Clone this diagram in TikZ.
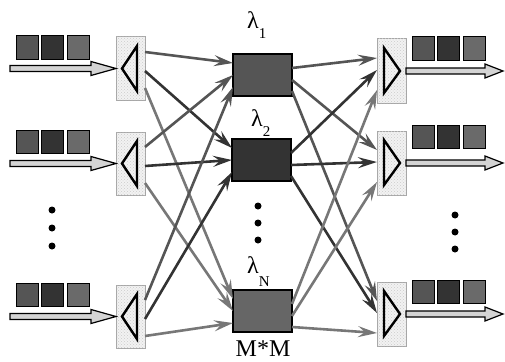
\documentclass[tikz,border=0pt]{standalone}
\usepackage{fontspec}
\setmainfont{Liberation Serif}
\usetikzlibrary{arrows.meta,calc,patterns}
\definecolor{ca}{HTML}{555555}
\definecolor{cb}{HTML}{333333}
\definecolor{cc}{HTML}{777777}
\definecolor{sq3}{HTML}{6A6A6A}
\definecolor{mN}{HTML}{666666}
\definecolor{arrfill}{HTML}{D4D4D4}
\begin{document}
\begin{tikzpicture}[x=1pt,y=-1pt,
  demux/.style={draw=gray!70, line width=1pt, fill=gray!10, postaction={pattern=crosshatch dots, pattern color=gray!40},
    rectangle, inner sep=0pt, outer sep=0pt, minimum width=29pt, minimum height=63pt, anchor=north west},
  wbox/.style={draw=black, line width=1.2pt, rectangle, inner sep=0pt, outer sep=0pt,
    minimum width=59pt, minimum height=42pt, anchor=north west},
  sq/.style={draw=black, line width=1pt, rectangle, inner sep=0pt, outer sep=0pt,
    minimum width=22pt, minimum height=23pt, anchor=north west},
  tri/.style={draw=black, line width=2.4pt, line join=miter},
  bigarrow/.style={draw=black, line width=1.2pt, fill=arrfill, line join=miter},
  conn/.style={line width=2.6pt, -{Stealth[length=19pt,width=11pt,inset=7pt]}},
  dot/.style={circle, fill=black, inner sep=0pt, minimum size=7pt},
  lam/.style={anchor=base west, inner sep=0pt}
]
\useasboundingbox (0,0) rectangle (505,361);

% input demux boxes
\node[demux] (in1) at (116,37) {};
\node[demux] (in2) at (116,132) {};
\node[demux] (in3) at (116,285) {};
% output mux boxes
\node[demux, minimum height=64pt] (out1) at (377,39) {};
\node[demux, minimum height=64pt] (out2) at (377,131) {};
\node[demux, minimum height=64pt] (out3) at (377,282) {};
% wavelength boxes
\node[wbox, fill=ca] (m1) at (233,54) {};
\node[wbox, fill=cb] (m2) at (232,139) {};
\node[wbox, fill=mN] (m3) at (233,290) {};

% connectors input -> middle
\foreach \i in {1,2,3}{
  \foreach \j/\c in {1/ca,2/cb,3/cc}{
    \pgfmathsetmacro{\so}{{15,34,51}[\j-1]}
    \pgfmathsetmacro{\to}{{9,21,33}[\i-1]}
    \draw[conn, draw=\c] ($(in\i.north east)+(0,\so)$) -- ($(m\j.north west)+(0,\to)$);
  }
}
% connectors middle -> output
\foreach \j/\c in {1/ca,2/cb,3/cc}{
  \foreach \k in {1,2,3}{
    \pgfmathsetmacro{\so}{{14,26,37}[\k-1]}
    \pgfmathsetmacro{\to}{{19,31,51}[\j-1]}
    \draw[conn, draw=\c] ($(m\j.north east)+(0,\so)$) -- ($(out\k.north west)+(0,\to)$);
  }
}

% triangles
\foreach \i in {1,2,3}{
  \draw[tri] ($(in\i.west)+(6,0)$) -- ($(in\i.north east)+(-8,9)$) -- ($(in\i.south east)+(-8,-9)$) -- cycle;
  \draw[tri] ($(out\i.east)+(-6,0)$) -- ($(out\i.north west)+(7,9)$) -- ($(out\i.south west)+(7,-10)$) -- cycle;
}

% input and output arrows
\foreach \i in {1,2,3}{
  \draw[bigarrow] (in\i.west) -- ++(-25,-7) -- ++(0,4) -- ++(-81,0) -- ++(0,6) -- ++(81,0) -- ++(0,4) -- cycle;
  \draw[bigarrow] ($(out\i.east)+(0,-3)$) -- ++(79,0) -- ++(0,-4) -- ++(18,7) -- ++(-18,7) -- ++(0,-4) -- ++(-79,0) -- cycle;
}

% squares (input)
\foreach \r/\y in {1/36,2/130,3/283}{
  \node[sq, fill=ca] (isa\r) at (16,\y) {};
  \node[sq, fill=cb] (isb\r) at (41,\y) {};
  \node[sq, fill=sq3] (isc\r) at (67,\y) {};
}
% squares (output)
\foreach \r/\y in {1/37,2/125,3/280}{
  \node[sq, fill=ca] (osa\r) at (412,\y) {};
  \node[sq, fill=cb] (osb\r) at (437,\y) {};
  \node[sq, fill=sq3] (osc\r) at (463,\y) {};
}

% dots
\foreach \y [count=\n] in {210,228,246}{ \node[dot] (ld\n) at (52,\y) {}; }
\foreach \y [count=\n] in {206,223,240}{ \node[dot] (md\n) at (258,\y) {}; }
\foreach \y [count=\n] in {215,232,249}{ \node[dot] (rd\n) at (455,\y) {}; }

% labels
\node[lam] (l1) at (247,29) {\fontsize{24}{24}\selectfont λ\raisebox{-10pt}{\fontsize{15}{15}\selectfont 1}};
\node[lam] (l2) at (251,126) {\fontsize{24}{24}\selectfont λ\raisebox{-10pt}{\fontsize{15}{15}\selectfont 2}};
\node[lam] (l3) at (247,273) {\fontsize{24}{24}\selectfont λ\raisebox{-13pt}{\fontsize{15}{15}\selectfont N}};
\node[anchor=base, inner sep=0pt] (mm) at (263,356) {\fontsize{24}{24}\selectfont M*M};
\end{tikzpicture}
\end{document}
